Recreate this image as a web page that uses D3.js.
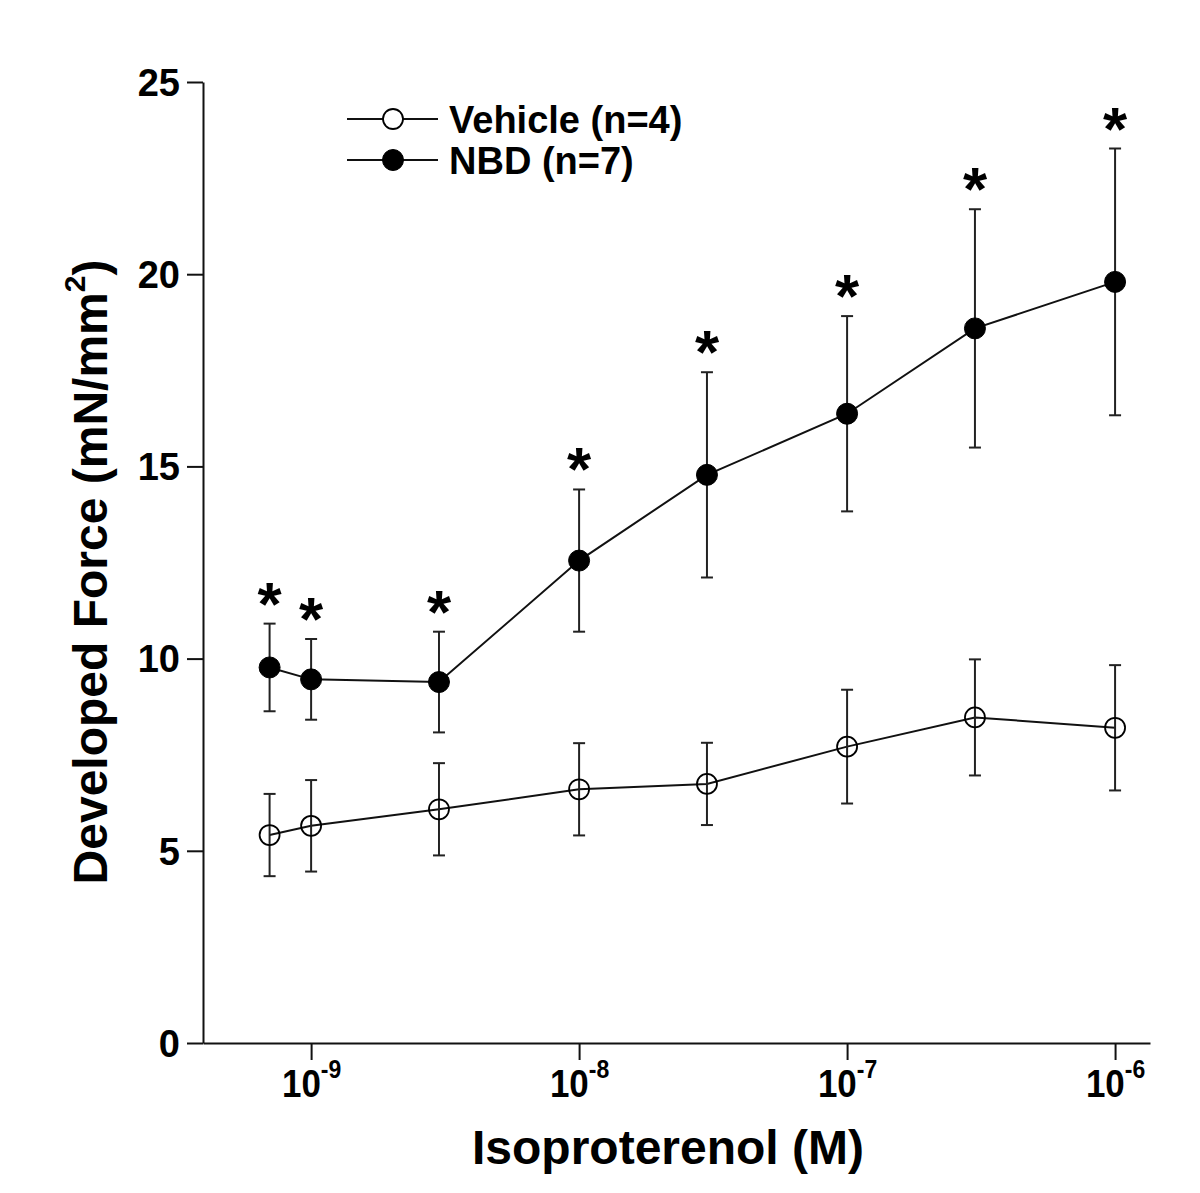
<!DOCTYPE html>
<html>
<head>
<meta charset="utf-8">
<script src="https://cdn.jsdelivr.net/npm/d3@7"></script>
<style>
  html, body { margin: 0; padding: 0; background: #fff; }
  svg { display: block; font-family: "Liberation Sans", Arial, sans-serif; }
</style>
</head>
<body>
<svg id="chart" width="1200" height="1193"></svg>
<script>
// ---- data ----
const concentrations = [7e-10, 1e-9, 3e-9, 1e-8, 3e-8, 1e-7, 3e-7, 1e-6];
const vehicleMean = [5.41, 5.65, 6.08, 6.60, 6.74, 7.71, 8.47, 8.20];
const vehicleSem  = [1.07, 1.19, 1.20, 1.20, 1.07, 1.48, 1.51, 1.63];
const nbdMean     = [9.77, 9.46, 9.39, 12.55, 14.78, 16.37, 18.59, 19.80];
const nbdSem      = [1.14, 1.05, 1.31, 1.85, 2.67, 2.54, 3.10, 3.47];
const nbdSignificant = [true, true, true, true, true, true, true, true];
const xTickValues = [1e-9, 1e-8, 1e-7, 1e-6];
const xTickExponents = ["-9", "-8", "-7", "-6"];
const yTickValues = [0, 5, 10, 15, 20, 25];
const xDomain = [3.95e-10, 1.35e-6];
const yDomain = [0, 25];
const seriesNames = ["Vehicle (n=4)", "NBD (n=7)"];
const xTitle = "Isoproterenol (M)";

// ---- layout ----
const svg = d3.select("#chart");
const x = d3.scaleLog().domain(xDomain).range([203, 1150]);
const y = d3.scaleLinear().domain(yDomain).range([1043, 82]);
const ink = "#111";

// axes
const yAxis = d3.axisLeft(y).tickValues(yTickValues).tickSize(16).tickPadding(7).tickSizeOuter(0);
const gy = svg.append("g").attr("transform", "translate(203,0)").call(yAxis);
gy.select(".domain").attr("stroke", ink).attr("stroke-width", 2);
gy.selectAll(".tick line").attr("stroke", ink).attr("stroke-width", 2);
gy.selectAll(".tick text").attr("font-size", 38).attr("font-weight", "bold").attr("fill", "#000")
  .attr("dy", "0.35em");

const xAxis = d3.axisBottom(x).tickValues(xTickValues).tickSize(17).tickSizeOuter(0).tickFormat("");
const gx = svg.append("g").attr("transform", "translate(0,1043)").call(xAxis);
gx.select(".domain").attr("stroke", ink).attr("stroke-width", 2);
gx.selectAll(".tick line").attr("stroke", ink).attr("stroke-width", 2);
gx.selectAll(".tick text").remove();
gx.selectAll(".tick").each(function(d, i) {
  const t = d3.select(this).append("text")
    .attr("y", 54).attr("text-anchor", "middle")
    .attr("transform", "scale(0.92,1)")
    .attr("fill", "#000").attr("font-weight", "bold").attr("font-size", 38);
  t.append("tspan").text("10");
  t.append("tspan").attr("dy", -19).attr("font-size", 25).text(xTickExponents[i]);
});

// axis titles
svg.append("text")
  .attr("x", 668).attr("y", 1164)
  .attr("text-anchor", "middle").attr("font-weight", "bold").attr("font-size", 48)
  .text(xTitle);

const yt = svg.append("text")
  .attr("transform", "translate(107,572) rotate(-90)")
  .attr("text-anchor", "middle").attr("font-weight", "bold").attr("font-size", 48);
yt.append("tspan").text("Developed Force (mN/mm");
yt.append("tspan").attr("dy", -22).attr("font-size", 30).text("2");
yt.append("tspan").attr("dy", 22).text(")");

// series
function drawSeries(means, sems, filled) {
  const pts = concentrations.map((c, i) => ({c, m: means[i], s: sems[i]}));
  const g = svg.append("g");
  g.append("path")
    .datum(pts)
    .attr("fill", "none").attr("stroke", ink).attr("stroke-width", 2)
    .attr("d", d3.line().x(d => x(d.c)).y(d => y(d.m)));
  const eb = g.selectAll("g.eb").data(pts).enter().append("g")
    .attr("stroke", "#222").attr("stroke-width", 2);
  eb.append("line")
    .attr("x1", d => x(d.c)).attr("x2", d => x(d.c))
    .attr("y1", d => y(d.m + d.s)).attr("y2", d => y(d.m - d.s));
  eb.append("line")
    .attr("x1", d => x(d.c) - 6).attr("x2", d => x(d.c) + 6)
    .attr("y1", d => y(d.m + d.s)).attr("y2", d => y(d.m + d.s));
  eb.append("line")
    .attr("x1", d => x(d.c) - 6).attr("x2", d => x(d.c) + 6)
    .attr("y1", d => y(d.m - d.s)).attr("y2", d => y(d.m - d.s));
  g.selectAll("circle").data(pts).enter().append("circle")
    .attr("cx", d => x(d.c)).attr("cy", d => y(d.m))
    .attr("r", filled ? 10.5 : 10)
    .attr("fill", filled ? "#000" : "none")
    .attr("stroke", "#000").attr("stroke-width", filled ? 1 : 1.8);
  return pts;
}
drawSeries(vehicleMean, vehicleSem, false);
const nbdPts = drawSeries(nbdMean, nbdSem, true);

// significance asterisks
svg.append("g").selectAll("text")
  .data(nbdPts.filter((d, i) => nbdSignificant[i]))
  .enter().append("text")
  .attr("x", d => x(d.c))
  .attr("y", d => y(d.m + d.s) + 1)
  .attr("text-anchor", "middle").attr("font-weight", "bold").attr("font-size", 62)
  .attr("fill", "#000")
  .text("*");

// legend
const legend = svg.append("g");
const legendRows = [{name: seriesNames[0], filled: false, cy: 119}, {name: seriesNames[1], filled: true, cy: 160}];
legendRows.forEach(r => {
  legend.append("line").attr("x1", 347).attr("x2", 438).attr("y1", r.cy).attr("y2", r.cy)
    .attr("stroke", ink).attr("stroke-width", 2);
  legend.append("circle").attr("cx", 393).attr("cy", r.cy).attr("r", r.filled ? 10.5 : 10)
    .attr("fill", r.filled ? "#000" : "#fff").attr("stroke", "#000").attr("stroke-width", r.filled ? 1 : 1.8);
  legend.append("text").attr("x", 449).attr("y", r.cy + 14)
    .attr("font-weight", "bold").attr("font-size", 38).attr("fill", "#000").text(r.name);
});
</script>
</body>
</html>
